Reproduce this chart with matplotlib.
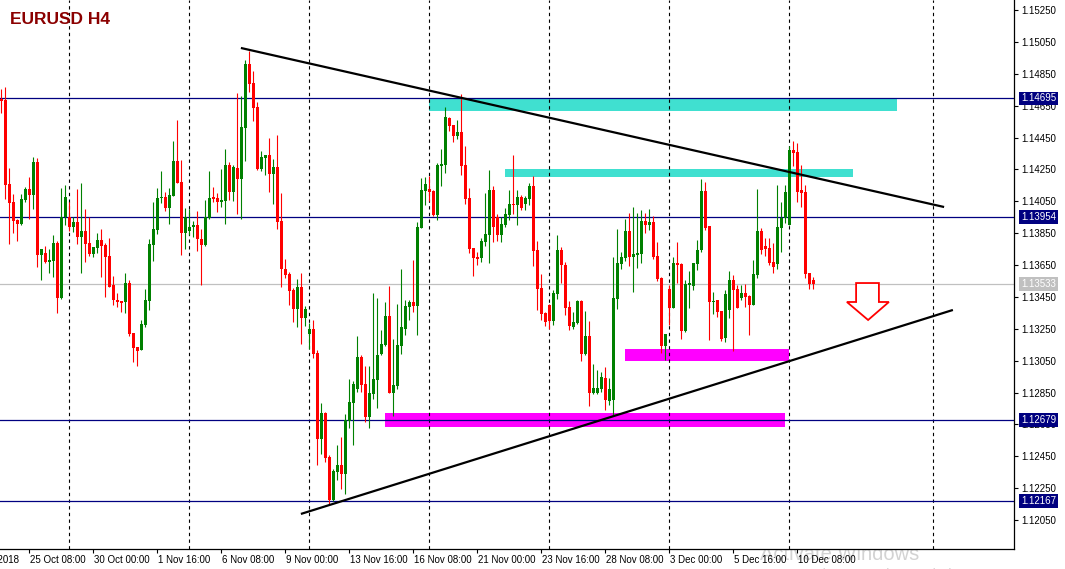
import matplotlib
matplotlib.use('Agg')
import matplotlib.pyplot as plt
from matplotlib.patches import Rectangle, Polygon
import numpy as np

plt.rcParams['font.family'] = ['Liberation Sans', 'DejaVu Sans']

# OHLC of EURUSD H4 bars (bar 7 = 25 Oct 08:00)
opens = [
    1.14692, 1.14686, 1.14158, 1.14045, 1.13933, 1.13907, 1.14058, 1.14127, 1.14089, 1.14296,
    1.13713, 1.13725, 1.13669, 1.13675, 1.13788, 1.13443, 1.13951, 1.13951, 1.13889, 1.13920,
    1.13826, 1.13863, 1.13788, 1.13719, 1.13757, 1.13807, 1.13776, 1.13707, 1.13525, 1.13431,
    1.13424, 1.13418, 1.13537, 1.13223, 1.13136, 1.13117, 1.13274, 1.13424, 1.13776, 1.13870,
    1.14070, 1.14077, 1.14008, 1.14083, 1.14303, 1.14171, 1.13851, 1.13863, 1.13889, 1.13901,
    1.13813, 1.13776, 1.13945, 1.14077, 1.14070, 1.14045, 1.14052, 1.14278, 1.14108, 1.14259,
    1.14190, 1.14510, 1.14911, 1.14792, 1.14642, 1.14253, 1.14322, 1.14340, 1.14221, 1.14265,
    1.13926, 1.13625, 1.13594, 1.13493, 1.13374, 1.13512, 1.13318, 1.13217, 1.13249, 1.13098,
    1.12558, 1.12721, 1.12445, 1.12176, 1.12351, 1.12395, 1.12339, 1.12671, 1.12784, 1.12872,
    1.13073, 1.12903, 1.12696, 1.12840, 1.12929, 1.13092, 1.13148, 1.13330, 1.12847, 1.12891,
    1.13142, 1.13249, 1.13386, 1.13418, 1.13393, 1.13882, 1.14115, 1.14127, 1.14115, 1.13964,
    1.14271, 1.14278, 1.14573, 1.14529, 1.14460, 1.14485, 1.14278, 1.14070, 1.13757, 1.13700,
    1.13694, 1.13795, 1.13838, 1.14121, 1.13951, 1.13838, 1.13901, 1.13964, 1.14033, 1.14027,
    1.14077, 1.14033, 1.14064, 1.14146, 1.13744, 1.13506, 1.13349, 1.13399, 1.13299, 1.13468,
    1.13744, 1.13650, 1.13386, 1.13261, 1.13286, 1.13424, 1.13092, 1.13205, 1.12847, 1.12847,
    1.12872, 1.12940, 1.12797, 1.12803, 1.13437, 1.13656, 1.13694, 1.13863, 1.13700, 1.13713,
    1.13719, 1.13926, 1.13901, 1.13920, 1.13707, 1.13569, 1.13142, 1.13500, 1.13380, 1.13663,
    1.13656, 1.13236, 1.13525, 1.13518, 1.13656, 1.13744, 1.14115, 1.13895, 1.13418, 1.13431,
    1.13361, 1.13192, 1.13368, 1.13556, 1.13500, 1.13443, 1.13474, 1.13456, 1.13399, 1.13587,
    1.13863, 1.13769, 1.13757, 1.13669, 1.13656, 1.13882, 1.13945, 1.13901, 1.14372, 1.14359,
    1.14121, 1.14108, 1.13600, 1.13556,
]
highs = [
    1.14755, 1.14767, 1.14259, 1.14096, 1.13939, 1.14096, 1.14140, 1.14202, 1.14328, 1.14322,
    1.13751, 1.13769, 1.13751, 1.13838, 1.13801, 1.14133, 1.14152, 1.14045, 1.13951, 1.14127,
    1.14165, 1.14002, 1.13951, 1.13763, 1.13851, 1.13876, 1.13788, 1.13820, 1.13581, 1.13474,
    1.13424, 1.13600, 1.13556, 1.13223, 1.13136, 1.13305, 1.13500, 1.13813, 1.14045, 1.14133,
    1.14240, 1.14108, 1.14133, 1.14428, 1.14560, 1.14309, 1.14008, 1.14002, 1.13926, 1.13989,
    1.13876, 1.14058, 1.14240, 1.14140, 1.14102, 1.14253, 1.14378, 1.14296, 1.14278, 1.14729,
    1.14711, 1.14937, 1.14993, 1.14868, 1.14673, 1.14366, 1.14340, 1.14447, 1.14315, 1.14466,
    1.14102, 1.13688, 1.13606, 1.13506, 1.13562, 1.13600, 1.13393, 1.13286, 1.13305, 1.13117,
    1.12784, 1.12728, 1.12458, 1.12370, 1.12521, 1.12571, 1.12715, 1.12935, 1.12922, 1.13205,
    1.13086, 1.13016, 1.13016, 1.13474, 1.13443, 1.13242, 1.13418, 1.13518, 1.13186, 1.13405,
    1.13625, 1.13431, 1.13431, 1.13682, 1.13920, 1.14196, 1.14202, 1.14209, 1.14121, 1.14290,
    1.14378, 1.14642, 1.14579, 1.14529, 1.14560, 1.14723, 1.14397, 1.14133, 1.13757, 1.13732,
    1.13820, 1.14102, 1.14246, 1.14146, 1.13970, 1.13951, 1.14008, 1.14121, 1.14340, 1.14121,
    1.14089, 1.14083, 1.14165, 1.14209, 1.13801, 1.13594, 1.13355, 1.13405, 1.13493, 1.13838,
    1.13763, 1.13669, 1.13424, 1.13355, 1.13431, 1.13431, 1.13361, 1.13299, 1.13029, 1.12991,
    1.12979, 1.13010, 1.12940, 1.13700, 1.13876, 1.13732, 1.13939, 1.13976, 1.14014, 1.13976,
    1.13995, 1.13976, 1.14002, 1.13958, 1.13795, 1.13575, 1.13217, 1.13525, 1.13700, 1.13795,
    1.13663, 1.13556, 1.13613, 1.13663, 1.13807, 1.14190, 1.14171, 1.13895, 1.13481, 1.13431,
    1.13361, 1.13493, 1.13613, 1.13587, 1.13525, 1.13525, 1.13531, 1.13462, 1.13682, 1.14127,
    1.13882, 1.13820, 1.13820, 1.13788, 1.14152, 1.14045, 1.14152, 1.14397, 1.14428, 1.14416,
    1.14278, 1.14152, 1.13600, 1.13575,
]
lows = [
    1.14604, 1.14064, 1.13782, 1.13851, 1.13801, 1.13901, 1.14045, 1.13939, 1.14002, 1.13638,
    1.13556, 1.13663, 1.13600, 1.13575, 1.13349, 1.13437, 1.13901, 1.13863, 1.13857, 1.13782,
    1.13600, 1.13669, 1.13707, 1.13700, 1.13725, 1.13575, 1.13449, 1.13512, 1.13399, 1.13387,
    1.13355, 1.13349, 1.13205, 1.13041, 1.13016, 1.13117, 1.13261, 1.13368, 1.13675, 1.13845,
    1.14039, 1.13989, 1.13907, 1.14083, 1.14165, 1.13713, 1.13751, 1.13838, 1.13826, 1.13738,
    1.13525, 1.13769, 1.13939, 1.14045, 1.13983, 1.14014, 1.13907, 1.14058, 1.14052, 1.13970,
    1.13939, 1.14303, 1.14736, 1.14554, 1.14246, 1.14240, 1.14215, 1.14108, 1.14033, 1.13876,
    1.13512, 1.13569, 1.13399, 1.13292, 1.13261, 1.13154, 1.13267, 1.13123, 1.13067, 1.12395,
    1.12464, 1.12414, 1.12150, 1.12169, 1.12301, 1.12245, 1.12213, 1.12627, 1.12521, 1.12853,
    1.12853, 1.12665, 1.12627, 1.12809, 1.12753, 1.13086, 1.13142, 1.12847, 1.12700, 1.12872,
    1.13092, 1.13211, 1.13305, 1.13355, 1.13211, 1.13882, 1.14027, 1.14052, 1.13958, 1.13933,
    1.14146, 1.14227, 1.14491, 1.14422, 1.14441, 1.14215, 1.14033, 1.13725, 1.13581, 1.13650,
    1.13669, 1.13770, 1.13663, 1.13795, 1.13801, 1.13795, 1.13889, 1.13933, 1.13970, 1.13901,
    1.13995, 1.13995, 1.14027, 1.13644, 1.13368, 1.13305, 1.13267, 1.13249, 1.13274, 1.13437,
    1.13537, 1.13336, 1.13242, 1.13249, 1.13280, 1.13048, 1.13086, 1.12765, 1.12840, 1.12840,
    1.12853, 1.12740, 1.12772, 1.12709, 1.13374, 1.13625, 1.13675, 1.13644, 1.13481, 1.13631,
    1.13663, 1.13851, 1.13870, 1.13688, 1.13550, 1.13098, 1.13054, 1.13274, 1.13380, 1.13537,
    1.13186, 1.13230, 1.13380, 1.13493, 1.13619, 1.13732, 1.13870, 1.13180, 1.13343, 1.13324,
    1.13173, 1.13167, 1.13318, 1.13111, 1.13380, 1.13431, 1.13386, 1.13211, 1.13399, 1.13569,
    1.13719, 1.13707, 1.13650, 1.13600, 1.13625, 1.13732, 1.13914, 1.13901, 1.14271, 1.14045,
    1.14014, 1.13569, 1.13500, 1.13500,
]
closes = [
    1.14679, 1.14152, 1.14039, 1.13926, 1.13907, 1.14064, 1.14127, 1.14089, 1.14296, 1.13713,
    1.13751, 1.13669, 1.13682, 1.13788, 1.13443, 1.13951, 1.14077, 1.13889, 1.13920, 1.13826,
    1.13863, 1.13782, 1.13719, 1.13763, 1.13807, 1.13769, 1.13700, 1.13512, 1.13431, 1.13418,
    1.13412, 1.13537, 1.13217, 1.13129, 1.13111, 1.13280, 1.13431, 1.13782, 1.13876, 1.14070,
    1.14077, 1.14008, 1.14089, 1.14303, 1.14165, 1.13851, 1.13951, 1.13889, 1.13901, 1.13813,
    1.13776, 1.13951, 1.14070, 1.14064, 1.14045, 1.14058, 1.14278, 1.14108, 1.14265, 1.14190,
    1.14516, 1.14911, 1.14786, 1.14635, 1.14253, 1.14328, 1.14340, 1.14221, 1.14265, 1.13920,
    1.13625, 1.13587, 1.13487, 1.13374, 1.13512, 1.13318, 1.13374, 1.13249, 1.13092, 1.12558,
    1.12721, 1.12439, 1.12176, 1.12358, 1.12395, 1.12339, 1.12678, 1.12790, 1.12903, 1.13073,
    1.12897, 1.12696, 1.12847, 1.12935, 1.13086, 1.13154, 1.13330, 1.12847, 1.12897, 1.13148,
    1.13261, 1.13393, 1.13418, 1.13393, 1.13889, 1.14121, 1.14158, 1.14108, 1.13964, 1.14278,
    1.14284, 1.14579, 1.14522, 1.14460, 1.14485, 1.14271, 1.14064, 1.13751, 1.13694, 1.13688,
    1.13801, 1.13845, 1.14121, 1.13889, 1.13838, 1.13907, 1.13970, 1.14033, 1.14027, 1.14077,
    1.14008, 1.14070, 1.14146, 1.13738, 1.13500, 1.13343, 1.13292, 1.13299, 1.13474, 1.13744,
    1.13650, 1.13380, 1.13267, 1.13292, 1.13424, 1.13092, 1.13205, 1.12847, 1.12878, 1.12878,
    1.12947, 1.12803, 1.12872, 1.13443, 1.13663, 1.13700, 1.13863, 1.13700, 1.13719, 1.13725,
    1.13926, 1.13901, 1.13920, 1.13700, 1.13562, 1.13142, 1.13217, 1.13380, 1.13663, 1.13650,
    1.13236, 1.13531, 1.13537, 1.13663, 1.13744, 1.14115, 1.13882, 1.13418, 1.13424, 1.13355,
    1.13186, 1.13468, 1.13556, 1.13493, 1.13380, 1.13474, 1.13450, 1.13399, 1.13594, 1.13863,
    1.13744, 1.13751, 1.13663, 1.13638, 1.13889, 1.13945, 1.14108, 1.14372, 1.14353, 1.14108,
    1.14102, 1.13594, 1.13531, 1.13531,
]

# time axis labels, one every 16 bars
label_bars = [-9, 7, 23, 39, 55, 71, 87, 103, 119, 135, 151, 167, 183, 199]
label_texts = ['22 Oct 2018', '25 Oct 08:00', '30 Oct 00:00', '1 Nov 16:00', '6 Nov 08:00',
               '9 Nov 00:00', '13 Nov 16:00', '16 Nov 08:00', '21 Nov 00:00', '23 Nov 16:00',
               '28 Nov 08:00', '3 Dec 00:00', '5 Dec 16:00', '10 Dec 08:00']
grid_bars = [17, 47, 77, 107, 137, 167, 197, 233]

level_prices = [1.14695, 1.13954, 1.12679, 1.12167]
bid_price = 1.13533
price_ticks = [1.15250, 1.15050, 1.14850, 1.14650, 1.14450, 1.14250, 1.14050, 1.13850,
               1.13650, 1.13450, 1.13250, 1.13050, 1.12850, 1.12650, 1.12450, 1.12250, 1.12050]

# drawn objects: (bar, price) anchors
upper_trend = [(59.9, 1.15012), (235.7, 1.14014)]
lower_trend = [(74.9, 1.12088), (237.9, 1.13368)]
cyan_zones = [(106.9, 223.9, 1.14617, 1.14692), (125.9, 212.9, 1.14205, 1.14253)]
magenta_zones = [(95.9, 195.9, 1.12634, 1.12721), (155.9, 196.9, 1.13048, 1.13123)]
arrow_pts = [(213.7, 1.13537), (219.4, 1.13537), (219.4, 1.13418), (221.9, 1.13418),
             (216.7, 1.13305), (211.4, 1.13418), (213.7, 1.13418)]

W, H = 1065, 569
fig = plt.figure(figsize=(W / 100, H / 100), dpi=100)
ax = fig.add_axes([0, 20 / H, 1014 / W, 549 / H])
ax.set_xlim(-0.325, 253.175)
ax.set_ylim(1.11868, 1.15313)

o = np.array(opens); hi = np.array(highs); lo = np.array(lows); c = np.array(closes)
x = np.arange(len(o))
cols = np.where(c >= o, '#008000', '#FF0000')

ax.vlines(x, lo, hi, colors=cols, lw=0.8, zorder=3)
ax.bar(x, np.maximum(np.abs(c - o), 0.00007), bottom=np.minimum(o, c), width=0.75,
       color=cols, linewidth=0, zorder=3)

for g in grid_bars:
    ax.axvline(g, color='black', lw=0.8, ls=(0, (3, 3)), zorder=1.5)
for p in level_prices:
    ax.axhline(p, color='#000080', lw=0.9, zorder=2)
ax.axhline(bid_price, color='#C0C0C0', lw=0.9, zorder=2)

for x0, x1, p0, p1 in cyan_zones:
    ax.add_patch(Rectangle((x0, p0), x1 - x0, p1 - p0, fc='#40E0D0', ec='none', zorder=1))
for x0, x1, p0, p1 in magenta_zones:
    ax.add_patch(Rectangle((x0, p0), x1 - x0, p1 - p0, fc='#FF00FF', ec='none', zorder=1))

for line in (upper_trend, lower_trend):
    ax.plot([line[0][0], line[1][0]], [line[0][1], line[1][1]], color='black', lw=1.6,
            zorder=4, solid_capstyle='butt')

ax.add_patch(Polygon(arrow_pts, closed=True, fc='white', ec='#FF0000', lw=1.3, zorder=5))

# axes look
for s in ('left', 'top'):
    ax.spines[s].set_visible(False)
for s in ('right', 'bottom'):
    ax.spines[s].set_linewidth(0.9)
ax.yaxis.tick_right()
ax.set_yticks(price_ticks)
ax.set_yticklabels([f'{p:.5f}' for p in price_ticks])
ax.tick_params(axis='y', direction='out', length=3, width=0.8, pad=2, labelsize=7)

vis = [b for b in label_bars if b >= 0]
ax.set_xticks(vis)
ax.set_xticklabels([''] * len(vis))
ax.tick_params(axis='x', direction='out', length=3, width=0.8)
for b, t in zip(label_bars, label_texts):
    ax.annotate(t, xy=(b, 0), xycoords=('data', 'axes fraction'), xytext=(0.6, -4.5),
                textcoords='offset points', ha='left', va='top', fontsize=7,
                annotation_clip=False)

for p in level_prices:
    ax.annotate(f'{p:.5f}', xy=(1, p), xycoords=('axes fraction', 'data'), xytext=(5, 0),
                textcoords='offset points', ha='left', va='center', fontsize=7, color='white',
                annotation_clip=False, zorder=6,
                bbox=dict(boxstyle='square,pad=0.2', fc='#000080', ec='none'))
ax.annotate(f'{bid_price:.5f}', xy=(1, bid_price), xycoords=('axes fraction', 'data'),
            xytext=(5, 0), textcoords='offset points', ha='left', va='center', fontsize=7,
            color='white', annotation_clip=False, zorder=6,
            bbox=dict(boxstyle='square,pad=0.2', fc='#C0C0C0', ec='none'))

fig.text(10 / W, 1 - 19 / H, 'EURUSD H4', color='#8B0000', fontweight='bold',
         fontsize=12.5, ha='left', va='center', zorder=10)

# faint OS watermark behind the chart
fig.text(760 / W, 1 - 560 / H, 'Activate Windows', color='#D3D3D3', fontsize=14.5,
         ha='left', va='baseline', zorder=-1)
fig.text(760 / W, 1 - 579 / H, 'Go to Settings to activate Windows.', color='#D3D3D3',
         fontsize=10, ha='left', va='baseline', zorder=-1)

fig.savefig('out.png', dpi=100)
